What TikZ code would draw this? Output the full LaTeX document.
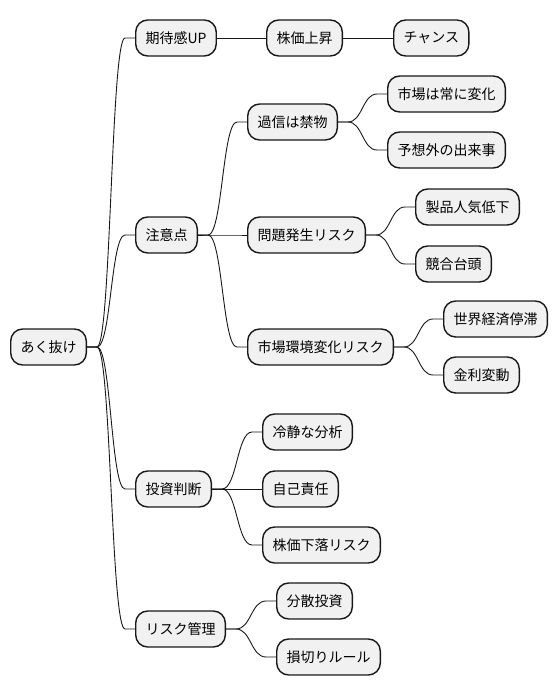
\documentclass[tikz,border=0pt]{standalone}
\usepackage{fontspec}
\setmainfont{Noto Sans CJK JP}
\usetikzlibrary{calc}
\definecolor{boxfill}{HTML}{F1F1F1}
\definecolor{boxline}{HTML}{181818}
\tikzset{
  mmbox/.style={draw=boxline, fill=boxfill, line width=1.4pt, rounded corners=12pt,
    minimum height=36pt, inner xsep=9.8pt, inner ysep=0pt, anchor=west,
    font=\fontsize{14pt}{16pt}\selectfont, text=black},
  mmline/.style={draw=boxline, line width=0.9pt}
}
\newcommand{\mmconn}[2]{%
  \draw[mmline] let \p1=(#1.east), \p2=(#2.west) in
    (\p1) -- (\x1+10pt,\y1) .. controls ({(\x1+\x2)/2},\y1) and ({(\x1+\x2)/2},\y2) .. (\x2-10pt,\y2) -- (\p2);}
\begin{document}
\begin{tikzpicture}[x=1pt,y=-1pt]
\useasboundingbox (0,0) rectangle (558,696);
\node[mmbox] (root) at (10,347) {あく抜け};
\node[mmbox] (a) at (135,38) {期待感UP};
\node[mmbox] (a1) at (266,38) {株価上昇};
\node[mmbox] (a2) at (393,38) {チャンス};
\node[mmbox] (b) at (135,235) {注意点};
\node[mmbox] (b1) at (247,122) {過信は禁物};
\node[mmbox] (b11) at (387,94) {市場は常に変化};
\node[mmbox] (b12) at (387,150) {予想外の出来事};
\node[mmbox] (b2) at (247,235) {問題発生リスク};
\node[mmbox] (b21) at (415,207) {製品人気低下};
\node[mmbox] (b22) at (415,264) {競合台頭};
\node[mmbox] (b3) at (247,347) {市場環境変化リスク};
\node[mmbox] (b31) at (443,319) {世界経済停滞};
\node[mmbox] (b32) at (443,375) {金利変動};
\node[mmbox] (c) at (135,489) {投資判断};
\node[mmbox] (c1) at (262,432) {冷静な分析};
\node[mmbox] (c2) at (262,489) {自己責任};
\node[mmbox] (c3) at (262,545) {株価下落リスク};
\node[mmbox] (d) at (135,629) {リスク管理};
\node[mmbox] (d1) at (276,601) {分散投資};
\node[mmbox] (d2) at (276,657) {損切りルール};
\mmconn{root}{a}
\mmconn{root}{b}
\mmconn{root}{c}
\mmconn{root}{d}
\draw[mmline] (a.east) -- (a1.west);
\draw[mmline] (a1.east) -- (a2.west);
\mmconn{b}{b1}
\mmconn{b}{b2}
\mmconn{b}{b3}
\mmconn{b1}{b11}
\mmconn{b1}{b12}
\mmconn{b2}{b21}
\mmconn{b2}{b22}
\mmconn{b3}{b31}
\mmconn{b3}{b32}
\mmconn{c}{c1}
\draw[mmline] (c.east) -- (c2.west);
\mmconn{c}{c3}
\mmconn{d}{d1}
\mmconn{d}{d2}
\end{tikzpicture}
\end{document}
